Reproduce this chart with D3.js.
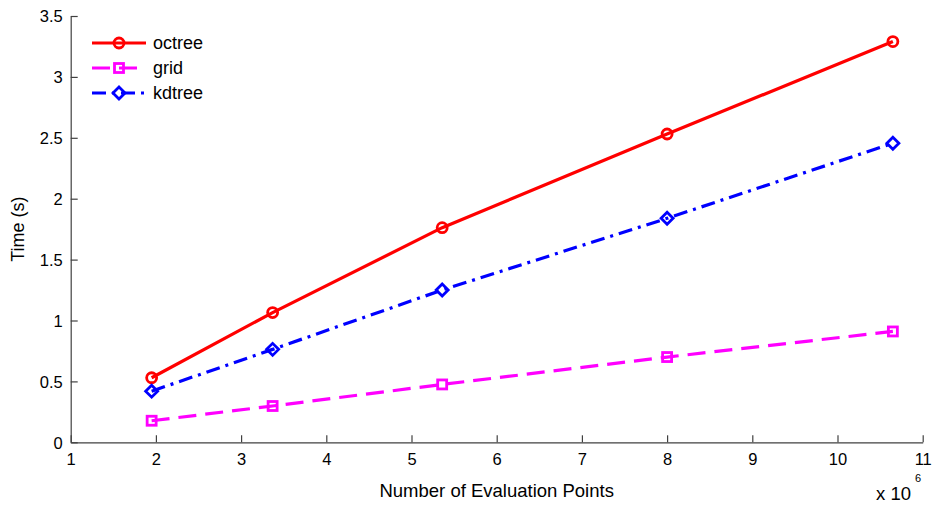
<!DOCTYPE html>
<html>
<head>
<meta charset="utf-8">
<script src="https://cdn.jsdelivr.net/npm/d3@7"></script>
<style>
  body { margin: 0; background: #fff; }
  svg { display: block; font-family: "Liberation Sans", Arial, sans-serif; }
</style>
</head>
<body>
<div id="chart"></div>
<script>
// data (x in units of 10^6)
const points = [1.95, 3.37, 5.36, 8.0, 10.65];
const octree = [0.53, 1.065, 1.762, 2.531, 3.29];
const grid = [0.177, 0.298, 0.475, 0.70, 0.91];
const kdtree = [0.42, 0.763, 1.25, 1.839, 2.455];
const xTicks = [1, 2, 3, 4, 5, 6, 7, 8, 9, 10, 11];
const yTicks = [0, 0.5, 1, 1.5, 2, 2.5, 3, 3.5];

const width = 934, height = 505;
const margin = {left: 70.7, right: 11.3, top: 16, bottom: 62.7};

const series = [
  {name: "octree", values: octree, color: "#ff0000", dash: null, marker: "circle"},
  {name: "grid", values: grid, color: "#ff00ff", dash: "18,9", marker: "square"},
  {name: "kdtree", values: kdtree, color: "#0000ff", dash: "14,6,3,6", marker: "diamond"}
];

const svg = d3.select("#chart").append("svg")
  .attr("width", width)
  .attr("height", height);

const x = d3.scaleLinear().domain([1, 11]).range([margin.left, width - margin.right]);
const y = d3.scaleLinear().domain([0, 3.5]).range([height - margin.bottom, margin.top]);

// axes: MATLAB style, ticks pointing inward
const xAxis = svg.append("g")
  .attr("transform", `translate(0,${y(0)})`)
  .call(d3.axisBottom(x).tickValues(xTicks).tickSizeInner(-7).tickSizeOuter(0).tickPadding(11).tickFormat(d3.format("d")));
const yAxis = svg.append("g")
  .attr("transform", `translate(${x(1)},0)`)
  .call(d3.axisLeft(y).tickValues(yTicks).tickSizeInner(-7).tickSizeOuter(0).tickPadding(8).tickFormat(d => d));

[xAxis, yAxis].forEach(a => {
  a.select(".domain").attr("stroke", "#404040").attr("stroke-width", 1.2);
  a.selectAll(".tick line").attr("stroke", "#404040").attr("stroke-width", 1.2);
  a.selectAll(".tick text").attr("fill", "#000").style("font-size", "16.5px")
    .style("font-family", "'Liberation Sans', Arial, sans-serif");
});
xAxis.selectAll(".tick text").attr("dy", "0.71em");
yAxis.selectAll(".tick text").attr("dy", "0.35em");

// axis labels
svg.append("text")
  .attr("x", (x(1) + x(11)) / 2)
  .attr("y", 497)
  .attr("text-anchor", "middle")
  .style("font-size", "18.5px")
  .text("Number of Evaluation Points");

svg.append("text")
  .attr("transform", `translate(24,${(y(0) + y(3.5)) / 2}) rotate(-90)`)
  .attr("text-anchor", "middle")
  .style("font-size", "18px")
  .text("Time (s)");

svg.append("text")
  .attr("x", 876)
  .attr("y", 500)
  .style("font-size", "18.5px")
  .text("x 10");
svg.append("text")
  .attr("x", 915)
  .attr("y", 482)
  .style("font-size", "11px")
  .text("6");

function drawMarker(g, type, cx, cy, color) {
  if (type === "circle") {
    g.append("circle").attr("cx", cx).attr("cy", cy).attr("r", 5)
      .attr("fill", "none").attr("stroke", color).attr("stroke-width", 2.8);
  } else if (type === "square") {
    g.append("rect").attr("x", cx - 4.5).attr("y", cy - 4.5).attr("width", 9).attr("height", 9)
      .attr("fill", "none").attr("stroke", color).attr("stroke-width", 2.8);
  } else {
    const r = 6;
    g.append("path").attr("d", `M${cx},${cy - r}L${cx + r},${cy}L${cx},${cy + r}L${cx - r},${cy}Z`)
      .attr("fill", "none").attr("stroke", color).attr("stroke-width", 2.8);
  }
}

const line = d3.line().x(d => x(d[0])).y(d => y(d[1]));

series.forEach(s => {
  const g = svg.append("g");
  const pts = points.map((p, i) => [p, s.values[i]]);
  g.append("path")
    .datum(pts)
    .attr("d", line)
    .attr("fill", "none")
    .attr("stroke", s.color)
    .attr("stroke-width", 3.2)
    .attr("stroke-dasharray", s.dash);
  pts.forEach(p => drawMarker(g, s.marker, x(p[0]), y(p[1]), s.color));
});

// legend (no box)
const legend = svg.append("g");
series.forEach((s, i) => {
  const ly = 43 + i * 25;
  legend.append("line")
    .attr("x1", 92).attr("x2", 146).attr("y1", ly).attr("y2", ly)
    .attr("stroke", s.color).attr("stroke-width", 3.2)
    .attr("stroke-dasharray", s.dash);
  drawMarker(legend, s.marker, 119, ly, s.color);
  legend.append("text")
    .attr("x", 153).attr("y", ly).attr("dy", "0.35em")
    .style("font-size", "18px")
    .text(s.name);
});
</script>
</body>
</html>
